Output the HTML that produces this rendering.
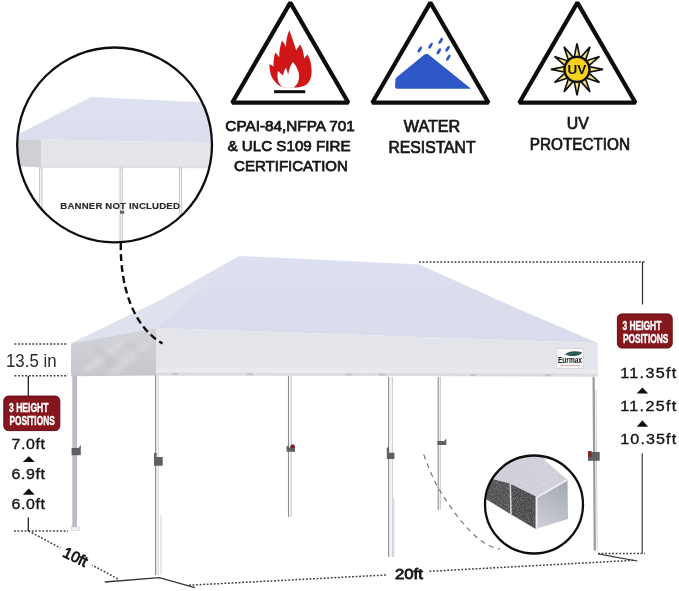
<!DOCTYPE html>
<html><head><meta charset="utf-8"><title>Canopy</title>
<style>
html,body{margin:0;padding:0;background:#fff;width:679px;height:591px;overflow:hidden;}
svg{display:block;}
text{font-family:"Liberation Sans",sans-serif;}
</style></head><body>
<svg width="679" height="591" viewBox="0 0 679 591" xmlns="http://www.w3.org/2000/svg">
<defs>
  <clipPath id="c1"><circle cx="114.6" cy="144.9" r="97.4"/></clipPath>
  <clipPath id="c2"><circle cx="534" cy="504.5" r="48.5"/></clipPath>
  <linearGradient id="topg" gradientUnits="userSpaceOnUse" x1="0" y1="256" x2="0" y2="342">
    <stop offset="0" stop-color="#dce0f0"/>
    <stop offset="0.5" stop-color="#d9ddec"/>
    <stop offset="1" stop-color="#d9ddeb"/>
  </linearGradient>
  <linearGradient id="topg2" gradientUnits="userSpaceOnUse" x1="0" y1="96" x2="0" y2="142">
    <stop offset="0" stop-color="#dee1ef"/>
    <stop offset="1" stop-color="#dbdeec"/>
  </linearGradient>
  <linearGradient id="sideg" gradientUnits="userSpaceOnUse" x1="0" y1="330" x2="0" y2="376">
    <stop offset="0" stop-color="#d3d4d9"/>
    <stop offset="0.5" stop-color="#cdced3"/>
    <stop offset="1" stop-color="#c6c7cc"/>
  </linearGradient>
  <filter id="nz" x="0" y="0" width="1" height="1" filterUnits="objectBoundingBox">
    <feTurbulence type="fractalNoise" baseFrequency="0.75" numOctaves="2" seed="7"/>
    <feColorMatrix type="matrix" values="0 0 0 0 1  0 0 0 0 1  0 0 0 0 1  2.2 0 0 0 -1.05"/>
  </filter>
  <filter id="nz2" x="0" y="0" width="1" height="1" filterUnits="objectBoundingBox">
    <feTurbulence type="fractalNoise" baseFrequency="0.7" numOctaves="2" seed="11"/>
    <feColorMatrix type="matrix" values="0 0 0 0 0.97  0 0 0 0 0.97  0 0 0 0 0.98  2.0 0 0 0 -1.0"/>
  </filter>
  <clipPath id="darkf"><polygon points="480,476 509.8,483.5 535.8,496.5 535.8,529.1 510.7,514.2 485,498.6 480,495"/></clipPath>
  <clipPath id="lightf"><polygon points="482,478 490,462 543.5,452 545.5,461 567.5,479.8 535.8,496.5 509.8,483.5"/></clipPath>
  <filter id="bl2" x="-20%" y="-20%" width="140%" height="140%"><feGaussianBlur stdDeviation="2.2"/></filter>
  <clipPath id="sidec"><polygon points="71,343.6 156,328 156,375.4 71,376.3"/></clipPath>
  <filter id="soft" x="0" y="0" width="679" height="591" filterUnits="userSpaceOnUse"><feGaussianBlur stdDeviation="0.28"/></filter>
  <linearGradient id="holeg" gradientUnits="userSpaceOnUse" x1="566" y1="482" x2="538" y2="527">
    <stop offset="0" stop-color="#a4a8b2"/>
    <stop offset="1" stop-color="#cdd0d6"/>
  </linearGradient>
</defs>
<g filter="url(#soft)">

<!-- ===== MAIN TENT ===== -->
<polygon points="239.5,256 419.3,264.4 516,308 598,343 156,328 71,343.6 160,300.4" fill="url(#topg)"/>
<polygon points="239.5,256 156,328 71,343.6 160,300.4" fill="#dfe1ef"/>
<polygon points="156,328 598,343 598,376.5 156,375.4" fill="#e4e5ea"/>
<polygon points="156,367.5 598,369 598,373.5 156,372.5" fill="#e9eaee"/>
<polygon points="156,372.5 598,373.5 598,376.5 156,375.4" fill="#dcdce0"/>
<g fill="#c4c4ca"><rect x="172" y="373" width="6" height="2"/><rect x="247" y="373.2" width="6" height="2"/><rect x="346" y="373.5" width="6" height="2"/><rect x="379" y="373.6" width="7" height="2"/><rect x="470" y="374" width="6" height="2"/><rect x="545" y="374.2" width="6" height="2"/></g>
<polygon points="71,343.6 156,328 156,375.4 71,376.3" fill="url(#sideg)"/>
<g clip-path="url(#sidec)"><g filter="url(#bl2)">
<polygon points="78,372 118,342 128,340 90,372" fill="#dcdde2" opacity="0.7"/>
<polygon points="105,374 140,345 150,345 118,374" fill="#dcdde2" opacity="0.6"/>
<polygon points="92,346 100,346 118,366 110,368" fill="#bcbdc3" opacity="0.45"/>
<polygon points="122,342 130,342 148,356 140,358" fill="#bcbdc3" opacity="0.35"/>
</g></g>

<!-- legs -->
<g>
  <rect x="72.1" y="376" width="4.9" height="154" fill="#bbbcc8"/>
  <rect x="72.1" y="376" width="0.8" height="154" fill="#d0d1da"/>
  <rect x="71.5" y="527" width="8" height="3.5" fill="#f2f2f4" stroke="#c8c8d0" stroke-width="0.6"/>
  <rect x="155.2" y="375" width="3" height="200" fill="#f4f4f6"/>
  <line x1="155.6" y1="375" x2="155.6" y2="575" stroke="#8c8c94" stroke-width="1.1"/>
  <line x1="158.3" y1="375" x2="158.3" y2="575" stroke="#c8c8d0" stroke-width="0.8"/>
  <line x1="161" y1="515" x2="161" y2="575" stroke="#c8c8d0" stroke-width="0.8"/>
  <rect x="288.5" y="376.0" width="2.8" height="141.0" fill="#f6f6f8"/>
  <line x1="288.5" y1="376.0" x2="288.5" y2="517.0" stroke="#8e8e96" stroke-width="1.1"/>
  <line x1="291.3" y1="376.0" x2="291.3" y2="517.0" stroke="#c4c4cc" stroke-width="0.9"/>
  <rect x="388.6" y="377.0" width="3.8" height="180.0" fill="#f6f6f8"/>
  <line x1="388.6" y1="377.0" x2="388.6" y2="557.0" stroke="#8e8e96" stroke-width="1.1"/>
  <line x1="392.4" y1="377.0" x2="392.4" y2="557.0" stroke="#c4c4cc" stroke-width="0.9"/>
  <line x1="393.9" y1="498" x2="393.9" y2="557" stroke="#c4c4cc" stroke-width="0.8"/>
  <rect x="438.2" y="377.0" width="2.2" height="133.0" fill="#f6f6f8"/>
  <line x1="438.2" y1="377.0" x2="438.2" y2="510.0" stroke="#8e8e96" stroke-width="1.1"/>
  <line x1="440.4" y1="377.0" x2="440.4" y2="510.0" stroke="#c4c4cc" stroke-width="0.9"/>
  <line x1="593.6" y1="377" x2="594.8" y2="550.5" stroke="#9a9aa2" stroke-width="2.2"/>
  <line x1="596" y1="390" x2="597.2" y2="550.5" stroke="#d0d0d6" stroke-width="1"/>
</g>
<!-- clamps -->
<g fill="#5e5e64">
  <path d="M71.6,448 L78.5,448 L80.8,445 L80.8,455.3 L71.6,455.3 Z"/>
  <path d="M154,453 L156.5,453 L156.5,457 L162.7,457 L162.7,465.7 L154,465.7 Z"/>
  <path d="M286.6,446 L289,446 L289,448 L295,448 L295,451.7 L286.6,451.7 Z"/>
  <path d="M386.8,447.4 L389,447.4 L389,452.7 L394.4,452.7 L394.4,459.1 L386.8,459.1 Z"/>
  <path d="M437.4,441 L444,441 L446.3,438.5 L446.3,445 L437.4,445 Z"/>
  <path d="M588,452 L599.7,452 L599.7,460.8 L588,460.8 Z"/>
</g>
<g fill="#7a2a2a">
  <path d="M290,448 C290,443.5 295,443 295,447 L295,448 Z"/>
  <path d="M588,451 L591.5,451 L591.5,457 L588,457 Z"/>
</g>

<!-- logo -->
<rect x="556.2" y="348.6" width="27.4" height="19.7" fill="#f8f8f8" stroke="#d0d0d0" stroke-width="0.7"/>
<path d="M565,354.2 C569,350.5 577,350.5 582.1,352.5 C580,356 571,357.5 565,354.2 Z" fill="#2f5a55"/>
<text x="558" y="363.3" font-size="8.5" font-weight="bold" fill="#151515" textLength="24" lengthAdjust="spacingAndGlyphs">Eurmax</text>
<rect x="560" y="365" width="20" height="0.9" fill="#d8a0a0"/>

<!-- ===== TOP LEFT INSET CIRCLE ===== -->
<g clip-path="url(#c1)">
  <rect x="0" y="0" width="230" height="260" fill="#fff"/>
  <polygon points="91.1,97.1 230,103.5 230,143.6 41,139.3 12,140.5 12,137.5 19.5,133.6" fill="url(#topg2)"/>
  <polygon points="41,139.3 230,143.6 230,168 41,167.6" fill="#e4e5ea"/>
  <polygon points="41,165.2 230,165.6 230,168.2 41,167.8" fill="#e0e0e4"/>
  <polygon points="12,140.5 41,139.3 41,167.6 12,166" fill="#cfd0d5"/>
  <g fill="#f2f2f6" stroke="#bcbcc6" stroke-width="0.8">
    <rect x="39.5" y="168" width="2.5" height="40"/>
    <rect x="120" y="168" width="2.2" height="80"/>
    <rect x="179.3" y="168" width="2.2" height="50"/>
  </g>
  <rect x="120" y="210.6" width="4.2" height="3.1" fill="#666"/>
</g>
<circle cx="114.6" cy="144.9" r="97.4" fill="none" stroke="#111" stroke-width="2.3"/>
<text x="120.1" y="209.3" font-size="9.6" font-weight="bold" fill="#2a2a2a" stroke="#2a2a2a" stroke-width="0.15" text-anchor="middle" textLength="119.5" lengthAdjust="spacing">BANNER NOT INCLUDED</text>

<!-- dashed connector -->
<path d="M120.8,243 C120,290 135,328 162.5,343.5" fill="none" stroke="#111" stroke-width="2.4" stroke-dasharray="7,4"/>

<!-- ===== TRIANGLES ===== -->
<g fill="none" stroke="#111" stroke-width="4.2" stroke-linejoin="bevel">
  <polygon points="290.3,2.6 232.2,102.7 348.4,102.7"/>
  <polygon points="430.4,2.6 372.3,102.7 488.5,102.7"/>
  <polygon points="577.4,2.6 519.3,102.7 635.5,102.7"/>
</g>

<!-- flame -->
<path d="M289.4,30.3 C291.5,37 294.5,44 296.2,50.5 C297.5,48 299,46 300.1,44.4 C302.5,48 303.8,53 304.1,58.5 C305.3,57 306.5,55.8 307.5,54.6 C309.5,58 311,62 311.3,67 C312,72 311.5,77 309.8,80.2 C308,83.5 306,85 304.7,85.5 C301.5,87 298,87.5 295.6,87.5 L292.5,87.2 L283.1,87.2 C279,86 277,84 275.8,82.4 C272.5,79 270.7,76 270.2,72 C269.6,69 269.4,66.5 269.5,64.3 C271,65 272.3,65.8 273.5,66.5 C273.3,61.5 274,56.5 275.2,52.4 C276.7,54 278,55.5 279.2,56.9 C279.2,51 280.3,45 282,40.5 C283.5,42.5 285,44.6 286,46.7 C286,40 287.3,34.5 289.4,30.3 Z" fill="#d01818"/>
<path d="M283.1,87.4 C280.5,85.5 278.8,83.5 278.2,81 C277.4,78 277.3,74 278,71.1 C279.5,72.5 281,74 283.1,75.6 C283.6,72.5 284.6,69.5 286,67.7 C286.8,70 287.5,72.3 288.2,74.5 C289,69.5 290.5,65 292.8,62 C294.8,64 296,66 296.7,67.7 C298.2,70.5 299,73 299,75.6 C299.2,78.5 298.8,80.5 297.9,82.4 C296.8,84.5 295.2,86 293.3,87.4 Z" fill="#fff"/>
<rect x="274.1" y="90.2" width="31.1" height="3" fill="#111"/>

<!-- water -->
<path d="M397.5,88.7 C395.5,88.7 395,87.5 395,86 L395.5,79.5 C395.7,78 396.5,77 397.6,76.4 L424.5,54.5 C425.7,53.5 427,53.3 428.2,54.2 L471.1,88.7 Z" fill="#2d58c8"/>
<g fill="#2d58c8">
  <ellipse cx="419.8" cy="49.5" rx="1.45" ry="3.4" transform="rotate(32 419.8 49.5)"/>
  <ellipse cx="430.5" cy="45.7" rx="1.45" ry="3.4" transform="rotate(32 430.5 45.7)"/>
  <ellipse cx="440.7" cy="40.9" rx="1.45" ry="3.4" transform="rotate(32 440.7 40.9)"/>
  <ellipse cx="438.8" cy="51.4" rx="1.45" ry="3.4" transform="rotate(32 438.8 51.4)"/>
  <ellipse cx="447.6" cy="48.8" rx="1.45" ry="3.4" transform="rotate(32 447.6 48.8)"/>
  <ellipse cx="448.3" cy="57.7" rx="1.45" ry="3.4" transform="rotate(32 448.3 57.7)"/>
</g>

<!-- UV sun -->
<path d="M574.1,57.8 L577.0,43.4 L579.9,57.8 Z M580.3,57.9 L590.0,46.9 L585.3,60.8 Z M585.6,61.1 L599.5,56.4 L588.5,66.1 Z M588.6,66.5 L603.0,69.4 L588.6,72.3 Z M588.5,72.7 L599.5,82.4 L585.6,77.7 Z M585.3,78.0 L590.0,91.9 L580.3,80.9 Z M579.9,81.0 L577.0,95.4 L574.1,81.0 Z M573.7,80.9 L564.0,91.9 L568.7,78.0 Z M568.4,77.7 L554.5,82.4 L565.5,72.7 Z M565.4,72.3 L551.0,69.4 L565.4,66.5 Z M565.5,66.1 L554.5,56.4 L568.4,61.1 Z M568.7,60.8 L564.0,46.9 L573.7,57.9 Z" fill="#f4e27e" stroke="#111" stroke-width="1.6" stroke-linejoin="miter"/>
<circle cx="577" cy="69.4" r="12.5" fill="#f6d21e" stroke="#111" stroke-width="2.4"/>
<text x="577" y="74.2" font-size="13.5" font-weight="bold" fill="#111" text-anchor="middle">UV</text>

<!-- ===== LABELS ===== -->
<g font-size="15.1" fill="#151515" stroke="#151515" stroke-width="0.75" text-anchor="middle">
  <text x="290.1" y="130.6" textLength="129.5" lengthAdjust="spacingAndGlyphs">CPAI-84,NFPA 701</text>
  <text x="289" y="150.7" textLength="123" lengthAdjust="spacingAndGlyphs">&amp; ULC S109 FIRE</text>
  <text x="291" y="171" textLength="113.8" lengthAdjust="spacingAndGlyphs">CERTIFICATION</text>
</g>
<g font-size="15.6" fill="#151515" stroke="#151515" stroke-width="0.7" text-anchor="middle">
  <text x="432" y="131.8" textLength="56.5" lengthAdjust="spacingAndGlyphs">WATER</text>
  <text x="432" y="153.2" textLength="87" lengthAdjust="spacingAndGlyphs">RESISTANT</text>
  <text x="577.8" y="128.5" textLength="22" lengthAdjust="spacingAndGlyphs">UV</text>
  <text x="579.9" y="150" textLength="100.3" lengthAdjust="spacingAndGlyphs">PROTECTION</text>
</g>

<!-- ===== LEFT DIMENSIONS ===== -->
<g stroke="#3a3a3a" stroke-width="1.5" stroke-dasharray="1.8,1.75">
  <line x1="14.5" y1="344" x2="68" y2="344"/>
  <line x1="14.5" y1="375.7" x2="68" y2="375.7"/>
  <line x1="14" y1="531" x2="68" y2="531"/>
</g>
<text x="6" y="366.5" font-size="17.5" fill="#2a2a2a" textLength="50.5" lengthAdjust="spacingAndGlyphs">13.5 in</text>
<line x1="28.3" y1="376" x2="28.3" y2="396" stroke="#222" stroke-width="1.3"/>
<rect x="3.8" y="396.1" width="56" height="34.5" rx="4.5" fill="#84161f" stroke="#640e16" stroke-width="1"/>
<g fill="#fff" font-weight="bold" font-size="13.2" stroke="#fff" stroke-width="0.45">
  <text x="9" y="412.3" textLength="39.5" lengthAdjust="spacingAndGlyphs">3 HEIGHT</text>
  <text x="9.4" y="425" textLength="45.3" lengthAdjust="spacingAndGlyphs">POSITIONS</text>
</g>
<g font-size="14.5" fill="#151515" stroke="#151515" stroke-width="0.35" transform="translate(11.5 0) scale(1.1 1)">
  <text x="0" y="448.6" textLength="30.5" lengthAdjust="spacing">7.0ft</text>
  <text x="0" y="479" textLength="30.5" lengthAdjust="spacing">6.9ft</text>
  <text x="0" y="509.5" textLength="30.5" lengthAdjust="spacing">6.0ft</text>
</g>
<polygon points="28.8,456.2 22.8,462 34.8,462" fill="#111"/>
<polygon points="28.8,488.6 22.8,494.7 34.8,494.7" fill="#111"/>
<line x1="28.3" y1="517.6" x2="28.3" y2="531" stroke="#222" stroke-width="1.3"/>

<!-- 10ft -->
<line x1="28.6" y1="531" x2="119" y2="579.5" stroke="#3a3a3a" stroke-width="1.5" stroke-dasharray="1.8,1.75"/>
<rect x="58" y="549" width="36" height="16" fill="#fff" transform="rotate(26 75.5 557)"/>
<text x="75.5" y="562.2" font-size="15.2" fill="#151515" stroke="#151515" stroke-width="0.8" text-anchor="middle" transform="rotate(26 75.5 557)">10ft</text>
<polyline points="104.8,582 159.4,577.7 194.8,587.7" fill="none" stroke="#333" stroke-width="1.3"/>

<!-- 20ft -->
<g stroke="#3a3a3a" stroke-width="1.5" stroke-dasharray="1.8,1.75">
  <line x1="189" y1="585.2" x2="386" y2="575"/>
  <line x1="429.5" y1="571.3" x2="633.6" y2="560.3"/>
  <line x1="598" y1="553.4" x2="645" y2="553.4"/>
  <line x1="419" y1="261.9" x2="646" y2="261.9"/>
</g>
<text x="394.9" y="579.4" font-size="15" fill="#151515" stroke="#151515" stroke-width="0.8" textLength="28" lengthAdjust="spacingAndGlyphs">20ft</text>
<line x1="598.5" y1="554" x2="637.4" y2="561" stroke="#333" stroke-width="1.2"/>

<!-- ===== RIGHT DIMENSIONS ===== -->
<line x1="642.5" y1="261.9" x2="642.5" y2="304.5" stroke="#2a2a2a" stroke-width="1.2"/>
<rect x="617.4" y="313.9" width="54.8" height="34.1" rx="4.5" fill="#84161f" stroke="#640e16" stroke-width="1"/>
<g fill="#fff" font-weight="bold" font-size="13" stroke="#fff" stroke-width="0.45">
  <text x="622.4" y="330.2" textLength="39" lengthAdjust="spacingAndGlyphs">3 HEIGHT</text>
  <text x="622.9" y="343" textLength="45.4" lengthAdjust="spacingAndGlyphs">POSITIONS</text>
</g>
<g font-size="14.4" fill="#151515" stroke="#151515" stroke-width="0.35" transform="translate(620.3 0) scale(1.12 1)">
  <text x="0" y="378" textLength="49.9" lengthAdjust="spacing">11.35ft</text>
  <text x="0" y="411" textLength="49.9" lengthAdjust="spacing">11.25ft</text>
  <text x="0" y="444.2" textLength="49.9" lengthAdjust="spacing">10.35ft</text>
</g>
<polygon points="642.4,387.4 636.7,393.5 648.1,393.5" fill="#111"/>
<polygon points="642.4,420.2 636.7,426.7 648.1,426.7" fill="#111"/>
<line x1="642.2" y1="453.2" x2="642.2" y2="553" stroke="#2a2a2a" stroke-width="1.1"/>

<!-- dashed curve to inset -->
<path d="M423.7,454.4 C430,472 436,485 442,494 C452,510 466,529 480,540 C488,546 494,548 500,549" fill="none" stroke="#777" stroke-width="1.2" stroke-dasharray="5,4.5"/>

<!-- ===== BOTTOM RIGHT INSET ===== -->
<circle cx="534" cy="504.5" r="49" fill="#fff"/>
<g clip-path="url(#c2)">
  <polygon points="482,478 490,462 543.5,452 545.5,461 567.5,479.8 535.8,496.5 509.8,483.5" fill="#d0cfd8"/>
  <polygon points="480,476 509.8,483.5 510.7,514.2 485,498.6 480,495" fill="#525254"/>
  <polygon points="509.8,483.5 535.8,496.5 535.8,529.1 510.7,514.2" fill="#4c4c4e"/>
  <line x1="510.3" y1="483.5" x2="511" y2="514.5" stroke="#d0d0d0" stroke-width="1.6"/>
  <polygon points="535.8,496.5 567.5,479.8 568,518.9 535.8,529.1" fill="url(#holeg)"/>
  <polyline points="536.6,528.3 536.6,497.5 566.9,480" fill="none" stroke="#f2f2f4" stroke-width="1.6"/>
  
  <g clip-path="url(#darkf)"><rect x="480" y="455" width="60" height="80" filter="url(#nz)" opacity="0.4"/></g>
  <g clip-path="url(#lightf)"><rect x="480" y="450" width="90" height="50" filter="url(#nz2)" opacity="0.5"/></g>
</g>
<circle cx="534" cy="504.5" r="49" fill="none" stroke="#111" stroke-width="2.3"/>
</g>
</svg>
</body></html>
